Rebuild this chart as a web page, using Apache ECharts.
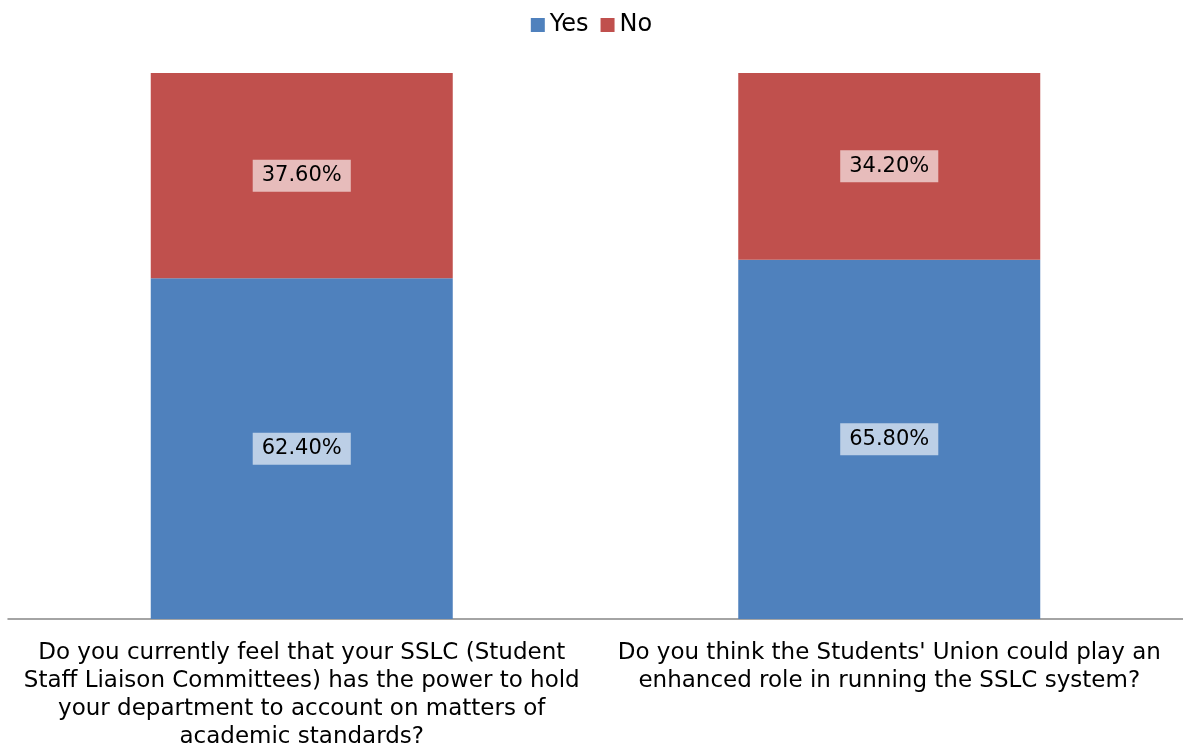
<!DOCTYPE html>
<html>
<head>
<meta charset="utf-8">
<title>SSLC survey</title>
<script src="https://cdn.jsdelivr.net/npm/echarts@6/dist/echarts.min.js"></script>
<style>
  html, body { margin: 0; padding: 0; background: #fff; }
  #chart { width: 1183px; height: 751px; }
</style>
</head>
<body>
<div id="chart"></div>
<script>
// Survey questions (axis categories, line breaks as displayed)
const categories = [
  'Do you currently feel that your SSLC (Student\nStaff Liaison Committees) has the power to hold\nyour department to account on matters of\nacademic standards?',
  "Do you think the Students' Union could play an\nenhanced role in running the SSLC system?"
];
// Share of responses, in percent
const yesValues = [62.4, 65.8];
const noValues = [37.6, 34.2];

const FONT = 'DejaVu Sans';

const labelStyle = {
  show: true,
  position: 'inside',
  formatter: p => p.value.toFixed(2) + '%',
  color: '#000',
  fontFamily: FONT,
  fontSize: 21,
  backgroundColor: 'rgba(255,255,255,0.62)',
  padding: [6, 9, 5, 9]
};

const chart = echarts.init(document.getElementById('chart'));
chart.setOption({
  animation: false,
  textStyle: { fontFamily: FONT },
  legend: {
    top: 8,
    left: 'center',
    itemWidth: 14,
    itemHeight: 14,
    itemGap: 12,
    icon: 'rect',
    textStyle: { fontSize: 24, color: '#000', fontFamily: FONT },
    data: ['Yes', 'No']
  },
  grid: { left: 8, right: 0, top: 73, bottom: 131, containLabel: false },
  xAxis: {
    type: 'category',
    data: categories,
    axisLine: { lineStyle: { color: '#868686', width: 1.5 } },
    axisTick: { show: false },
    axisLabel: {
      interval: 0,
      margin: 20,
      color: '#000',
      fontSize: 23,
      lineHeight: 28,
      fontFamily: FONT,
      align: 'center'
    }
  },
  yAxis: {
    type: 'value',
    min: 0,
    max: 100,
    show: false,
    splitLine: { show: false }
  },
  series: [
    {
      name: 'Yes',
      type: 'bar',
      stack: 'total',
      barWidth: 302,
      itemStyle: { color: '#4F81BD' },
      label: labelStyle,
      data: yesValues
    },
    {
      name: 'No',
      type: 'bar',
      stack: 'total',
      barWidth: 302,
      itemStyle: { color: '#C0504D' },
      label: labelStyle,
      data: noValues
    }
  ]
});
</script>
</body>
</html>
